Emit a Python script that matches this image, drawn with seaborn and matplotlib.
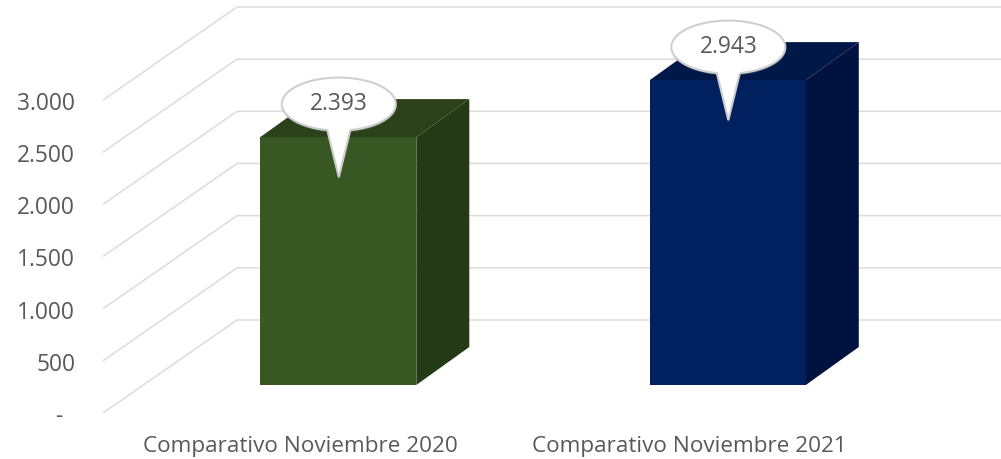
import numpy as np
import matplotlib
matplotlib.use("Agg")
import matplotlib.pyplot as plt
from matplotlib.patches import PathPatch, Polygon
from matplotlib.path import Path
from matplotlib.transforms import Affine2D, ScaledTranslation
import seaborn as sns

categories = ["Comparativo Noviembre 2020", "Comparativo Noviembre 2021"]
values = [2393, 2943]
front_colors = ["#385723", "#002060"]
top_colors = ["#2a4119", "#001848"]
side_colors = ["#253a17", "#001340"]
y_ticks = [0, 500, 1000, 1500, 2000, 2500, 3000]
y_tick_labels = ["-  ", "500", "1.000", "1.500", "2.000", "2.500", "3.000"]
label_texts = ["2.393", "2.943"]

W, H = 1001, 460
PX_PER_UNIT = 313 / 3000
BAR_PX_PER_UNIT = 0.1036
PX_PER_CAT = 389.5
TEXT = "#595959"
GRID = "#dcdcdc"

sns.set_theme(style="white")
plt.rcParams["font.family"] = ["Open Sans", "DejaVu Sans"]

fig = plt.figure(figsize=(W / 100, H / 100), dpi=100)


def make_axes(left_px, floor_px, center_px, scale):
    ax = fig.add_axes([left_px / W, 1 - floor_px / H, (W - left_px) / W, floor_px / H])
    ax.set_xlim((left_px - center_px) / PX_PER_CAT, (W - center_px) / PX_PER_CAT)
    ax.set_ylim(0, floor_px / scale)
    ax.patch.set_alpha(0)
    sns.despine(ax=ax, left=True, bottom=True)
    return ax


# wall and floor: holds the tick labels and the gridlines
ax_wall = make_axes(103, 414, 300, PX_PER_UNIT)
# front plane of the bars, shifted into the depth of the floor
ax_bars = make_axes(103, 386, 338.3, BAR_PX_PER_UNIT)

wall_dx = 134 / PX_PER_CAT
wall_dy = 93 / PX_PER_UNIT
x0 = ax_wall.get_xlim()[0]
x1 = ax_wall.get_xlim()[1]
for v in y_ticks:
    ax_wall.plot([x0, x0 + wall_dx, x1], [v, v + wall_dy, v + wall_dy],
                 color=GRID, lw=1.1, clip_on=False, solid_capstyle="butt")

ax_wall.set_yticks(y_ticks, y_tick_labels)
ax_wall.set_xticks([0, 1], categories)
ax_wall.tick_params(axis="y", length=0, pad=20, labelsize=16.4, labelcolor=TEXT)
ax_wall.tick_params(axis="x", length=0, pad=16, labelsize=16.2, labelcolor=TEXT)

sns.barplot(x=[0, 1], y=values, hue=[0, 1], palette=front_colors, legend=False,
            native_scale=True, width=156 / PX_PER_CAT, saturation=1, gap=0,
            dodge=False, linewidth=0, ax=ax_bars)
ax_bars.set_xlim((103 - 338.3) / PX_PER_CAT, (W - 338.3) / PX_PER_CAT)
ax_bars.set_ylim(0, 386 / BAR_PX_PER_UNIT)
ax_bars.set_xticks([])
ax_bars.set_yticks([])
ax_bars.set_xlabel("")
ax_bars.set_ylabel("")

# depth faces
dx = 53 / PX_PER_CAT
dy = 38 / BAR_PX_PER_UNIT
bars = [b for b in ax_bars.patches if b.get_height() > 0]
bars = sorted(bars, key=lambda b: b.get_x())
for bar, top_c, side_c in zip(bars, top_colors, side_colors):
    xl = bar.get_x()
    xr = xl + bar.get_width()
    h = bar.get_height()
    ax_bars.add_patch(Polygon([(xl, h), (xr, h), (xr + dx, h + dy), (xl + dx, h + dy)],
                              facecolor=top_c, edgecolor="none", clip_on=False))
    ax_bars.add_patch(Polygon([(xr, 0), (xr + dx, dy), (xr + dx, h + dy), (xr, h)],
                              facecolor=side_c, edgecolor="none", clip_on=False))


def callout_path():
    # ellipse with a spike, in pixels relative to the middle of the bar top
    rx, ry, cy = 57, 26.5, 33
    base = np.arcsin(11.5 / rx)
    t = np.linspace(-np.pi / 2 + base, 3 * np.pi / 2 - base, 120)
    pts = [(rx * np.cos(a), cy + ry * np.sin(a)) for a in t]
    pts.append((0, -40))
    pts.append(pts[0])
    return Path(pts)


for bar, txt in zip(bars, label_texts):
    cx = bar.get_x() + bar.get_width() / 2
    h = bar.get_height()
    place = Affine2D().translate(0.5, 0) + ScaledTranslation(cx, h, ax_bars.transData)
    shadow = Affine2D().translate(0.8, -1.2) + ScaledTranslation(cx, h, ax_bars.transData)
    ax_bars.add_patch(PathPatch(callout_path(), transform=shadow, facecolor="#a6a6a6",
                                edgecolor="#a6a6a6", lw=1.0, alpha=0.3, clip_on=False, zorder=5))
    ax_bars.add_patch(PathPatch(callout_path(), transform=place, facecolor="white",
                                edgecolor="#cfcfcf", lw=1.5, clip_on=False, zorder=6))
    ax_bars.annotate(txt, (cx, h), xytext=(0.5, 24.5), textcoords="offset points",
                     ha="center", va="center", fontsize=16.4, color=TEXT, zorder=7,
                     annotation_clip=False)

fig.savefig("out.png", dpi=100)
